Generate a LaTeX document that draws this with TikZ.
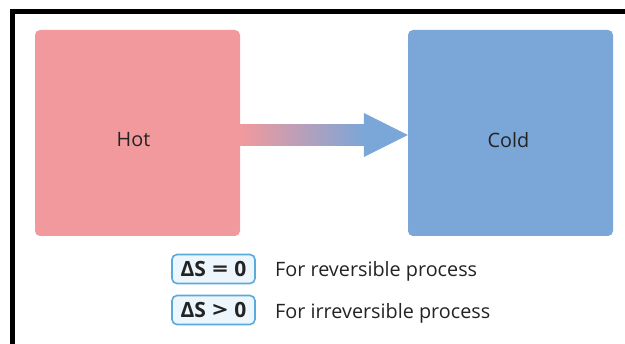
\documentclass[tikz,border=0pt]{standalone}
\usepackage{fontspec}
\setmainfont{Open Sans}
\usetikzlibrary{calc}
\definecolor{hotpink}{RGB}{242,153,157}
\definecolor{coldblue}{RGB}{123,166,216}
\definecolor{tagline}{RGB}{90,170,220}
\definecolor{tagfill}{RGB}{236,246,252}
\definecolor{ink}{RGB}{35,35,35}
\tikzset{
  bath/.style={rounded corners=5pt, minimum width=205pt, minimum height=206pt, inner sep=0pt},
  tag/.style={draw=tagline, fill=tagfill, line width=1.6pt, rounded corners=5pt,
    minimum width=83pt, minimum height=29pt, inner sep=0pt, font=\fontsize{21}{25}\selectfont\bfseries},
  note/.style={anchor=base west, inner sep=0pt}
}
\newcommand{\wide}[1]{\hspace{6.5pt}\scalebox{1.3}[1]{#1}\hspace{6.5pt}}
\begin{document}
\begin{tikzpicture}[x=1pt,y=-1pt,font=\fontsize{19.8}{24}\selectfont,text=ink]
\useasboundingbox (0,0) rectangle (625,344);
% frame, top and left only
\draw[line width=5pt] (12.5,344) -- (12.5,11.5) -- (625,11.5);
% the two bodies
\node[bath,fill=hotpink] (hot) at (137.5,133) {};
\node[bath,fill=coldblue] (cold) at (510.5,133) {};
\node (hotname) at ([xshift=-4pt,yshift=-7pt]hot.center) {Hot};
\node (coldname) at ([xshift=-2pt,yshift=-7pt]cold.center) {Cold};
% heat flow
\shade[left color=hotpink,right color=coldblue] ($(hot.east)+(0,-8)$) rectangle ($(cold.west)+(-43,13)$);
\fill[coldblue] ($(cold.west)+(-44,-20)$) -- ($(cold.west)+(0,2)$) -- ($(cold.west)+(-44,24)$) -- cycle;
% entropy change
\node[tag] (rev) at (213.5,269) {ΔS\wide{=}0};
\node[tag] (irrev) at (213.5,310) {ΔS\wide{>}0};
\node[note] (revnote) at (275,277) {For reversible process};
\node[note] (irrevnote) at (275,319) {For irreversible process};
\end{tikzpicture}
\end{document}
